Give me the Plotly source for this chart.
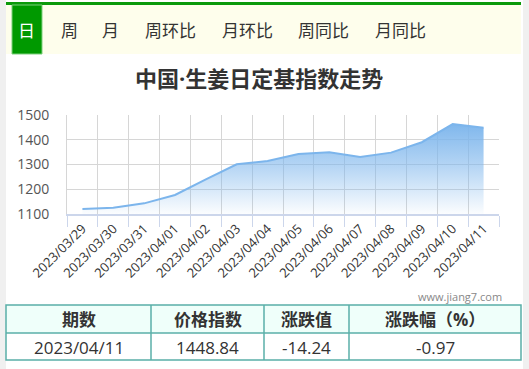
import plotly.graph_objects as go

W, H = 529, 369

# ---- data ----
dates = ["2023/03/29", "2023/03/30", "2023/03/31", "2023/04/01", "2023/04/02",
         "2023/04/03", "2023/04/04", "2023/04/05", "2023/04/06", "2023/04/07",
         "2023/04/08", "2023/04/09", "2023/04/10", "2023/04/11"]
values = [1120, 1125, 1143, 1177, 1240, 1301, 1314, 1342, 1349, 1330,
          1348, 1390, 1463.08, 1448.84]
y_ticks = [1100, 1200, 1300, 1400, 1500]

tabs = ["日", "周", "月", "周环比", "月环比", "周同比", "月同比"]
tab_x = [26.5, 69.5, 110, 170.5, 247, 323.5, 400]

title = "中国·生姜日定基指数走势"
table_header = ["期数", "价格指数", "涨跌值", "涨跌幅（%）"]
table_row = ["2023/04/11", "1448.84", "-14.24", "-0.97"]
col_edges = [6, 151, 264, 349, 521]

FONT = "Open Sans, Noto Sans CJK SC, sans-serif"


def px(x):
    return x / W


def py(y):
    return 1 - y / H


fig = go.Figure()
fig.add_trace(go.Scatter(
    x=dates, y=values, mode="lines",
    line=dict(color="#7cb5ec", width=2),
    fill="tozeroy",
    fillgradient=dict(type="vertical",
                      colorscale=[[0, "rgba(124,181,236,0.03)"],
                                  [0.5, "rgba(124,181,236,0.55)"],
                                  [1, "rgba(124,181,236,1)"]],
                      start=1100, stop=1475),
    hoverinfo="skip", showlegend=False,
))

shapes = []
# side gray strips
shapes.append(dict(type="rect", xref="paper", yref="paper", x0=0, x1=px(6), y0=0, y1=1,
                   fillcolor="#f0f0f0", line_width=0))
shapes.append(dict(type="rect", xref="paper", yref="paper", x0=px(523), x1=1, y0=0, y1=1,
                   fillcolor="#f0f0f0", line_width=0))
# tab bar
shapes.append(dict(type="rect", xref="paper", yref="paper", x0=px(6), x1=px(521), y0=py(54), y1=py(4),
                   fillcolor="#fefeec", line_width=0))
shapes.append(dict(type="rect", xref="paper", yref="paper", x0=px(6), x1=px(521), y0=py(5), y1=py(2),
                   fillcolor="#0b9a0b", line_width=0))
shapes.append(dict(type="rect", xref="paper", yref="paper", x0=px(12), x1=px(42), y0=py(54), y1=py(5),
                   fillcolor="#009900", line=dict(color="#7ccf7c", width=1)))
# table
shapes.append(dict(type="rect", xref="paper", yref="paper", x0=px(6), x1=px(521), y0=py(333), y1=py(305),
                   fillcolor="#effffa", line_width=0))
shapes.append(dict(type="rect", xref="paper", yref="paper", x0=px(6), x1=px(521), y0=py(360), y1=py(305),
                   fillcolor="rgba(0,0,0,0)", line=dict(color="#5aafa8", width=1.5)))
shapes.append(dict(type="line", xref="paper", yref="paper", x0=px(6), x1=px(521), y0=py(333), y1=py(333),
                   line=dict(color="#5aafa8", width=1.5)))
for cx in col_edges[1:-1]:
    shapes.append(dict(type="line", xref="paper", yref="paper", x0=px(cx), x1=px(cx), y0=py(305), y1=py(360),
                       line=dict(color="#5aafa8", width=1.5)))

annotations = []
for i, (t, x) in enumerate(zip(tabs, tab_x)):
    annotations.append(dict(text=t, x=px(x), y=py(30), xref="paper", yref="paper",
                            showarrow=False, xanchor="center", yanchor="middle",
                            font=dict(size=17, color="#ffffff" if i == 0 else "#333333", family=FONT)))
annotations.append(dict(text="<b>" + title + "</b>", x=px(259), y=py(78), xref="paper", yref="paper",
                        showarrow=False, xanchor="center", yanchor="middle",
                        font=dict(size=22, color="#333333", family=FONT)))
annotations.append(dict(text="www.jiang7.com", x=px(504), y=py(296), xref="paper", yref="paper",
                        showarrow=False, xanchor="right", yanchor="middle",
                        font=dict(size=11, color="#888888", family=FONT)))
for i in range(4):
    cx = (col_edges[i] + col_edges[i + 1]) / 2
    annotations.append(dict(text="<b>" + table_header[i] + "</b>", x=px(cx), y=py(319.5),
                            xref="paper", yref="paper", showarrow=False,
                            xanchor="center", yanchor="middle",
                            font=dict(size=17, color="#333333", family=FONT)))
    annotations.append(dict(text=table_row[i], x=px(cx), y=py(347),
                            xref="paper", yref="paper", showarrow=False,
                            xanchor="center", yanchor="middle",
                            font=dict(size=17, color="#333333", family=FONT)))

fig.update_layout(
    width=W, height=H,
    margin=dict(l=0, r=0, t=0, b=0),
    paper_bgcolor="#ffffff", plot_bgcolor="#ffffff",
    font=dict(family=FONT),
    shapes=shapes, annotations=annotations,
    xaxis=dict(
        type="category", domain=[px(67), px(499)], range=[-0.5, len(dates) - 0.5],
        tickson="boundaries", showgrid=True, gridcolor="#d6d6d6", gridwidth=1,
        ticks="outside", ticklen=11, tickcolor="#ccd6eb", tickwidth=1,
        showline=True, linecolor="#ccd6eb", linewidth=2,
        tickangle=-45, tickfont=dict(size=13, color="#333333", family=FONT),
        fixedrange=True, mirror=False, automargin=False,
    ),
    yaxis=dict(
        domain=[py(214), py(115)], range=[1100, 1500], tickvals=y_ticks,
        showgrid=True, gridcolor="#d6d6d6", gridwidth=1,
        showline=True, linecolor="#d6d6d6", linewidth=1,
        tickfont=dict(size=14, color="#555555", family=FONT),
        ticklabelstandoff=14, zeroline=False, fixedrange=True, automargin=False,
    ),
)

fig.write_html("out.html")
